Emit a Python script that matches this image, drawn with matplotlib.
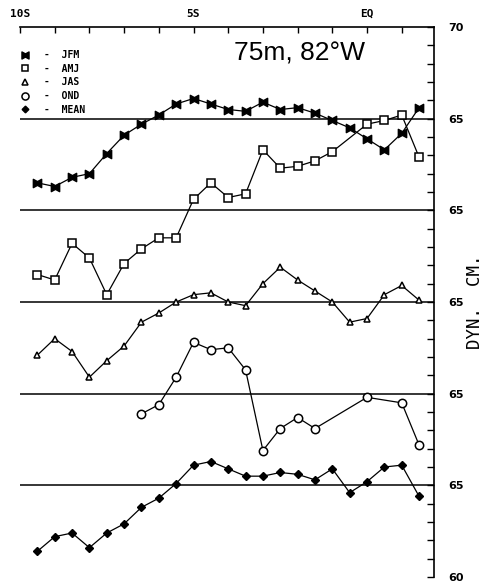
import numpy as np
import matplotlib
matplotlib.use("Agg")
import matplotlib.pyplot as plt
from matplotlib.lines import Line2D
from matplotlib.path import Path

# latitude (negative = south)
lat_full = [-9.5, -9.0, -8.5, -8.0, -7.5, -7.0, -6.5, -6.0, -5.5, -5.0, -4.5, -4.0,
            -3.5, -3.0, -2.5, -2.0, -1.5, -1.0, -0.5, 0.0, 0.5, 1.0, 1.5]
lat_amj = [-9.5, -9.0, -8.5, -8.0, -7.5, -7.0, -6.5, -6.0, -5.5, -5.0, -4.5, -4.0,
           -3.5, -3.0, -2.5, -2.0, -1.5, -1.0, 0.0, 0.5, 1.0, 1.5]
lat_ond = [-6.5, -6.0, -5.5, -5.0, -4.5, -4.0, -3.5, -3.0, -2.5, -2.0, -1.5, 0.0, 1.0, 1.5]

# dynamic height, cm
jfm = [61.5, 61.3, 61.8, 62.0, 63.1, 64.1, 64.7, 65.2, 65.8, 66.1, 65.8, 65.5,
       65.4, 65.9, 65.5, 65.6, 65.3, 64.9, 64.5, 63.9, 63.3, 64.2, 65.6]
amj = [61.5, 61.2, 63.2, 62.4, 60.4, 62.1, 62.9, 63.5, 63.5, 65.6, 66.5, 65.7,
       65.9, 68.3, 67.3, 67.4, 67.7, 68.2, 69.7, 69.9, 70.2, 67.9]
jas = [62.1, 63.0, 62.3, 60.9, 61.8, 62.6, 63.9, 64.4, 65.0, 65.4, 65.5, 65.0,
       64.8, 66.0, 66.9, 66.2, 65.6, 65.0, 63.9, 64.1, 65.4, 65.9, 65.1]
ond = [63.9, 64.4, 65.9, 67.8, 67.4, 67.5, 66.3, 61.9, 63.1, 63.7, 63.1, 64.8, 64.5, 62.2]
mean = [61.4, 62.2, 62.4, 61.6, 62.4, 62.9, 63.8, 64.3, 65.1, 66.1, 66.3, 65.9,
        65.5, 65.5, 65.7, 65.6, 65.3, 65.9, 64.6, 65.2, 66.0, 66.1, 64.4]

labels = ["JFM", "AMJ", "JAS", "OND", "MEAN"]
offsets = [40, 45, 50, 55, 60]   # each curve shifted so its 65 sits on its own line

xticks = [-10, -5, 0]
xticklabels = ["10S", "5S", "EQ"]
yticks = [0, 5, 10, 15, 20, 25, 30]
yticklabels = ["60", "65", "65", "65", "65", "65", "70"]

bowtie = Path([(-1, -1), (0, -0.45), (1, -1), (1, 1), (0, 0.45), (-1, 1), (-1, -1)],
              [Path.MOVETO] + [Path.LINETO] * 5 + [Path.CLOSEPOLY])

styles = [
    dict(marker=bowtie, ms=6, mfc="black", mec="black"),
    dict(marker="s", ms=5.5, mfc="white", mec="black", mew=1.1),
    dict(marker="^", ms=5, mfc="white", mec="black", mew=1.1),
    dict(marker="o", ms=6, mfc="white", mec="black", mew=1.1),
    dict(marker="D", ms=4, mfc="black", mec="black"),
]

fig = plt.figure(figsize=(4.85, 5.85), dpi=100)
ax = fig.add_axes([20 / 485, 8 / 585, 414 / 485, 550 / 585])

series = [(lat_full, jfm), (lat_amj, amj), (lat_full, jas), (lat_ond, ond), (lat_full, mean)]
for (x, y), off, st in zip(series, offsets, styles):
    ax.plot(x, np.array(y) - off, color="black", lw=0.9, zorder=3, **st)

for base in [5, 10, 15, 20, 25]:
    ax.axhline(base, color="black", lw=1.1, zorder=1)

ax.set_xlim(-10, 1.93)
ax.set_ylim(0, 30)

ax.xaxis.tick_top()
ax.yaxis.tick_right()
ax.set_xticks(np.arange(-10, 2, 1), minor=True)
ax.set_xticks(xticks)
ax.set_xticklabels(xticklabels, fontsize=8, fontweight="bold", family="DejaVu Sans Mono")
ax.set_yticks(np.arange(0, 31, 1), minor=True)
ax.set_yticks(yticks)
ax.set_yticklabels(yticklabels, fontsize=8, fontweight="bold")
ax.tick_params(axis="x", which="both", direction="in", length=4, width=1, pad=6, top=True)
ax.tick_params(axis="y", which="both", direction="in", length=5, width=1, pad=10, right=True)
for s in ["left", "bottom"]:
    ax.spines[s].set_visible(False)
for s in ["top", "right"]:
    ax.spines[s].set_linewidth(1.2)

ax.yaxis.set_label_position("right")
ax.set_ylabel("DYN.  CM.", fontsize=12.5, family="DejaVu Sans Mono", labelpad=2)

ax.text(0.676, 0.94, "75m, 82°W", transform=ax.transAxes, ha="center", va="baseline",
        fontsize=19, family="Liberation Sans")

handles = [Line2D([], [], color="black", ls="none", **st) for st in styles]
for h in handles:
    h.set_markersize(h.get_markersize() * 0.85)
ax.legend(handles, ["-  " + l for l in labels], loc="upper left",
          bbox_to_anchor=(0.0, 0.958), frameon=False, handlelength=1.0,
          handletextpad=1.5, labelspacing=0.38, borderpad=0, borderaxespad=0,
          prop=dict(family="DejaVu Sans Mono", weight="bold", size=7))

fig.savefig("out.png", dpi=100)
